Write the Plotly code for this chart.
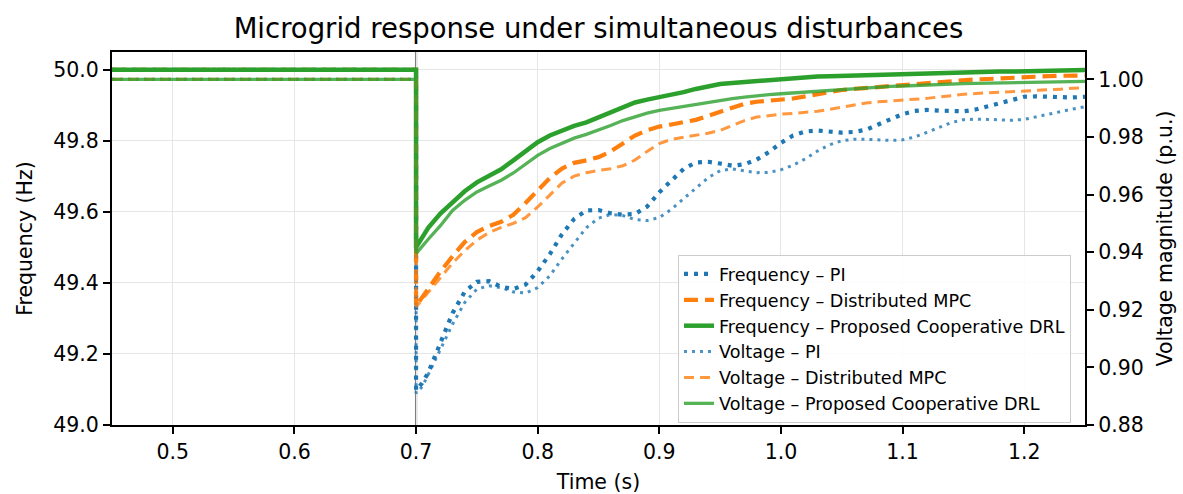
import plotly.graph_objects as go

# ---------------- data ----------------
t_pre = [0.45, 0.70]
t_post = [0.700, 0.705, 0.71, 0.72, 0.73, 0.74, 0.75, 0.76, 0.77, 0.78, 0.79,
          0.80, 0.81, 0.82, 0.83, 0.84, 0.85, 0.86, 0.87, 0.88, 0.89,
          0.90, 0.91, 0.92, 0.93, 0.94, 0.95, 0.96, 0.97, 0.98, 0.99,
          1.00, 1.01, 1.02, 1.03, 1.04, 1.05, 1.06, 1.07, 1.08, 1.09,
          1.10, 1.11, 1.12, 1.13, 1.14, 1.15, 1.16, 1.17, 1.18, 1.19,
          1.20, 1.21, 1.22, 1.23, 1.24, 1.25]

freq_pre = [50.0, 50.0]
volt_pre = [1.0, 1.0]

freq_pi = [49.098, 49.118, 49.147, 49.232, 49.315, 49.375, 49.403, 49.405, 49.389, 49.383, 49.395,
           49.433, 49.481, 49.537, 49.580, 49.604, 49.605, 49.596, 49.592, 49.594, 49.615,
           49.655, 49.690, 49.721, 49.739, 49.741, 49.736, 49.730, 49.734, 49.747, 49.768,
           49.794, 49.815, 49.826, 49.829, 49.825, 49.823, 49.825, 49.831, 49.846, 49.861,
           49.875, 49.884, 49.887, 49.885, 49.883, 49.883, 49.888, 49.897, 49.908, 49.917,
           49.924, 49.925, 49.924, 49.924, 49.922, 49.924]

freq_mpc = [49.335, 49.360, 49.385, 49.432, 49.475, 49.515, 49.543, 49.560, 49.572, 49.592, 49.625,
            49.660, 49.695, 49.722, 49.738, 49.745, 49.754, 49.770, 49.793, 49.815, 49.830,
            49.840, 49.846, 49.852, 49.859, 49.870, 49.880, 49.893, 49.904, 49.910, 49.913,
            49.915, 49.919, 49.925, 49.932, 49.938, 49.943, 49.946, 49.949, 49.952, 49.955,
            49.957, 49.961, 49.964, 49.967, 49.969, 49.971, 49.973, 49.974, 49.976, 49.978,
            49.980, 49.981, 49.982, 49.983, 49.984, 49.984]

freq_drl = [49.500, 49.530, 49.555, 49.595, 49.628, 49.658, 49.683, 49.700, 49.720, 49.745, 49.772,
            49.796, 49.815, 49.830, 49.842, 49.852, 49.866, 49.882, 49.897, 49.908, 49.916,
            49.922, 49.929, 49.937, 49.946, 49.954, 49.960, 49.963, 49.966, 49.969, 49.971,
            49.974, 49.977, 49.979, 49.981, 49.982, 49.983, 49.985, 49.986, 49.987, 49.988,
            49.988, 49.989, 49.990, 49.991, 49.992, 49.992, 49.993, 49.994, 49.995, 49.995,
            49.996, 49.997, 49.997, 49.998, 49.998, 49.999]

volt_pi = [0.8910, 0.8933, 0.8975, 0.9062, 0.9150, 0.9225, 0.9272, 0.9283, 0.9277, 0.9262, 0.9258,
           0.9277, 0.9318, 0.9377, 0.9433, 0.9485, 0.9518, 0.9531, 0.9527, 0.9513, 0.9510,
           0.9520, 0.9549, 0.9584, 0.9622, 0.9658, 0.9683, 0.9689, 0.9683, 0.9676, 0.9677,
           0.9686, 0.9702, 0.9724, 0.9751, 0.9773, 0.9787, 0.9792, 0.9792, 0.9789, 0.9788,
           0.9790, 0.9800, 0.9816, 0.9834, 0.9850, 0.9860, 0.9862, 0.9861, 0.9859, 0.9858,
           0.9861, 0.9870, 0.9881, 0.9889, 0.9897, 0.9905]

volt_mpc = [0.9210, 0.9235, 0.9260, 0.9313, 0.9362, 0.9405, 0.9442, 0.9468, 0.9486, 0.9500, 0.9520,
            0.9557, 0.9600, 0.9640, 0.9664, 0.9676, 0.9684, 0.9690, 0.9700, 0.9720, 0.9750,
            0.9777, 0.9792, 0.9799, 0.9806, 0.9813, 0.9823, 0.9840, 0.9857, 0.9869, 0.9875,
            0.9879, 0.9882, 0.9885, 0.9889, 0.9896, 0.9904, 0.9912, 0.9918, 0.9922, 0.9925,
            0.9927, 0.9930, 0.9934, 0.9939, 0.9944, 0.9948, 0.9951, 0.9953, 0.9955, 0.9957,
            0.9958, 0.9960, 0.9963, 0.9966, 0.9969, 0.9971]

volt_drl = [0.9395, 0.9422, 0.9445, 0.9492, 0.9545, 0.9580, 0.9609, 0.9630, 0.9650, 0.9675, 0.9705,
            0.9736, 0.9760, 0.9779, 0.9796, 0.9809, 0.9823, 0.9840, 0.9857, 0.9871, 0.9883,
            0.9892, 0.9899, 0.9906, 0.9914, 0.9921, 0.9927, 0.9933, 0.9938, 0.9943, 0.9947,
            0.9950, 0.9953, 0.9956, 0.9960, 0.9963, 0.9966, 0.9969, 0.9972, 0.9974, 0.9976,
            0.9977, 0.9979, 0.9980, 0.9982, 0.9983, 0.9985, 0.9986, 0.9987, 0.9988, 0.9989,
            0.9990, 0.9991, 0.9991, 0.9992, 0.9992, 0.9993]

disturbance_time = 0.70
x_ticks = [0.5, 0.6, 0.7, 0.8, 0.9, 1.0, 1.1, 1.2]
freq_ticks = [49.0, 49.2, 49.4, 49.6, 49.8, 50.0]
volt_ticks = [0.88, 0.90, 0.92, 0.94, 0.96, 0.98, 1.00]

# ---------------- figure ----------------
BLUE, ORANGE, GREEN = "#1f77b4", "#ff7f0e", "#2ca02c"
FONT = "DejaVu Sans"
t_all = t_pre + t_post

series = [
    ("Frequency – PI", freq_pre + freq_pi, "y", BLUE, 4.2, "4px,6px", 1.0),
    ("Frequency – Distributed MPC", freq_pre + freq_mpc, "y", ORANGE, 4.2, "14px,7px", 1.0),
    ("Frequency – Proposed Cooperative DRL", freq_pre + freq_drl, "y", GREEN, 4.5, "solid", 1.0),
    ("Voltage – PI", volt_pre + volt_pi, "y2", BLUE, 3.0, "3px,5px", 0.8),
    ("Voltage – Distributed MPC", volt_pre + volt_mpc, "y2", ORANGE, 3.0, "10px,6px", 0.8),
    ("Voltage – Proposed Cooperative DRL", volt_pre + volt_drl, "y2", GREEN, 3.3, "solid", 0.8),
]

fig = go.Figure()
for name, vals, yax, col, w, dash, op in series:
    fig.add_trace(go.Scatter(
        x=t_all, y=vals, name=name, yaxis=yax, mode="lines",
        line=dict(color=col, width=w, dash=dash), opacity=op,
    ))

fig.add_shape(type="line", x0=disturbance_time, x1=disturbance_time, xref="x",
              y0=0, y1=1, yref="paper", line=dict(color="#7f7f7f", width=2.2),
              layer="between")

axis_common = dict(showline=True, linecolor="black", linewidth=2.2,
                   ticks="outside", ticklen=7, tickwidth=1.8, tickcolor="black",
                   tickfont=dict(size=20.5, color="black", family=FONT),
                   zeroline=False, automargin=False)

fig.update_layout(
    width=1183, height=494,
    margin=dict(l=112, r=98, t=52, b=69),
    paper_bgcolor="white", plot_bgcolor="white",
    font=dict(family=FONT, color="black"),
    title=dict(text="Microgrid response under simultaneous disturbances",
               x=0.5, xref="paper", xanchor="center",
               y=1 - 28 / 494, yref="container", yanchor="middle",
               font=dict(size=27.5, family=FONT, color="black")),
    xaxis=dict(range=[0.45, 1.25], tickvals=x_ticks, tickformat=".1f",
               showgrid=True, gridcolor="#e6e6e6", gridwidth=1.4, mirror=True,
               title=dict(text="Time (s)", font=dict(size=20.5, family=FONT), standoff=14),
               **axis_common),
    yaxis=dict(range=[49.0, 50.05], tickvals=freq_ticks, tickformat=".1f",
               showgrid=True, gridcolor="#e6e6e6", gridwidth=1.4,
               title=dict(text="Frequency (Hz)", font=dict(size=20.5, family=FONT), standoff=15),
               **axis_common),
    yaxis2=dict(range=[0.88, 1.0095], tickvals=volt_ticks, tickformat=".2f",
                overlaying="y", side="right", showgrid=False,
                title=dict(text="Voltage magnitude (p.u.)", font=dict(size=20.5, family=FONT), standoff=15),
                **axis_common),
    legend=dict(x=0.5817, y=0.4558, xanchor="left", yanchor="top",
                bgcolor="rgba(255,255,255,0.85)", bordercolor="#cccccc", borderwidth=1,
                font=dict(size=17.6, family=FONT, color="black"),
                traceorder="normal", tracegroupgap=0),
)

fig.write_html("out.html")
